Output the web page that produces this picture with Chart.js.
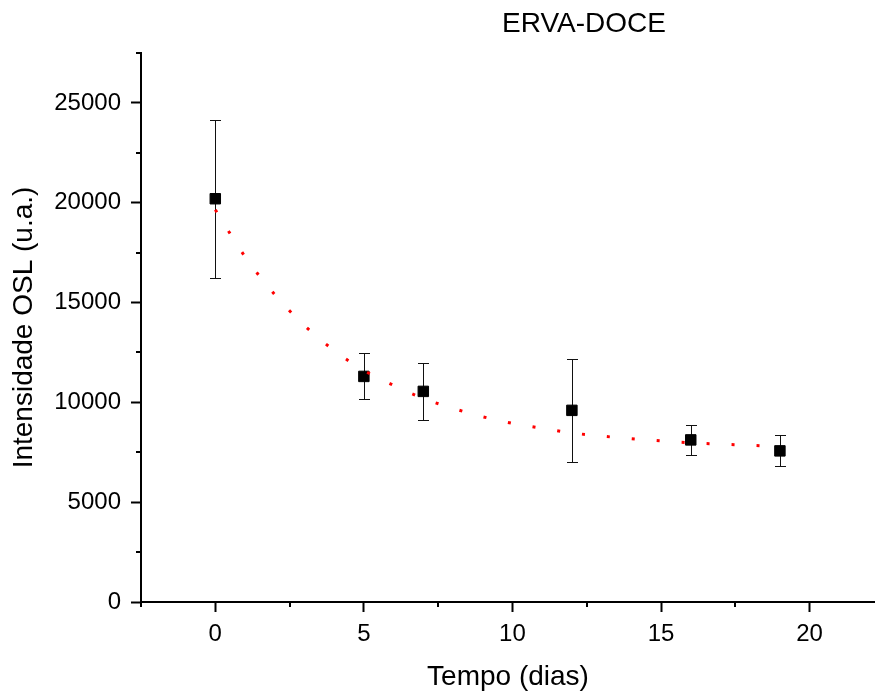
<!DOCTYPE html>
<html>
<head>
<meta charset="utf-8">
<script src="https://cdn.jsdelivr.net/npm/chart.js@4.4.1/dist/chart.umd.min.js"></script>
<style>
  html, body { margin: 0; padding: 0; background: #fff; overflow: hidden; }
  canvas { display: block; }
</style>
</head>
<body>
<canvas id="oslChart" width="875" height="698"></canvas>
<script>
// measured points (days, OSL intensity, error)
const days = [0, 5, 7, 12, 16, 19];
const osl = [20200, 11300, 10550, 9600, 8120, 7570];
const oslErr = [3960, 1150, 1440, 2590, 736, 776];

// fitted decay curve
const fitDays = [0, 1, 2, 3, 4, 5, 6, 7, 8, 9, 10, 11, 12, 13, 14, 15, 16, 17, 18, 19];
const fitOsl = [19650, 17300, 15400, 13850, 12600, 11600, 10850, 10200, 9700, 9280,
                8950, 8700, 8470, 8310, 8180, 8070, 7970, 7910, 7850, 7780];

const xTicks = [-2.5, 0, 2.5, 5, 7.5, 10, 12.5, 15, 17.5, 20];
const yTicks = [0, 2500, 5000, 7500, 10000, 12500, 15000, 17500, 20000, 22500, 25000, 27500];

const FONT = "'Liberation Sans', Arial, sans-serif";
const isMajorX = v => v % 5 === 0;
const isMajorY = v => v % 5000 === 0;

const errorBars = {
    id: 'errorBars',
    beforeDatasetsDraw(chart) {
        const { ctx, scales: { x, y } } = chart;
        ctx.save();
        ctx.strokeStyle = '#111';
        ctx.lineWidth = 1;
        days.forEach((d, i) => {
            const px = Math.round(x.getPixelForValue(d)) + 0.5;
            const top = Math.round(y.getPixelForValue(osl[i] + oslErr[i])) + 0.5;
            const bot = Math.round(y.getPixelForValue(osl[i] - oslErr[i])) + 0.5;
            ctx.beginPath();
            ctx.moveTo(px, top); ctx.lineTo(px, bot);
            ctx.moveTo(px - 5.5, top); ctx.lineTo(px + 5.5, top);
            ctx.moveTo(px - 5.5, bot); ctx.lineTo(px + 5.5, bot);
            ctx.stroke();
        });
        ctx.restore();
    }
};

// short minor ticks + title
const extras = {
    id: 'extras',
    afterDraw(chart) {
        const { ctx, chartArea, scales: { x, y } } = chart;
        ctx.save();
        ctx.strokeStyle = '#000';
        ctx.lineWidth = 2;
        ctx.beginPath();
        xTicks.filter(v => !isMajorX(v)).forEach(v => {
            const px = Math.round(x.getPixelForValue(v));
            ctx.moveTo(px, chartArea.bottom);
            ctx.lineTo(px, chartArea.bottom + 5);
        });
        yTicks.filter(v => !isMajorY(v)).forEach(v => {
            const py = Math.round(y.getPixelForValue(v));
            ctx.moveTo(chartArea.left, py);
            ctx.lineTo(chartArea.left - 5, py);
        });
        ctx.stroke();

        ctx.fillStyle = '#000';
        ctx.font = '28px ' + FONT;
        ctx.textAlign = 'center';
        ctx.textBaseline = 'alphabetic';
        ctx.fillText('ERVA-DOCE', 584, 32);
        ctx.restore();
    }
};

new Chart(document.getElementById('oslChart'), {
    type: 'scatter',
    data: {
        datasets: [{
            label: 'OSL',
            data: days.map((d, i) => ({ x: d, y: osl[i] })),
            pointStyle: 'rect',
            pointRadius: 7.4,
            pointHoverRadius: 7.4,
            backgroundColor: '#000',
            borderColor: '#000',
            borderWidth: 1,
            order: 2
        }, {
            label: 'Ajuste',
            data: fitDays.map((d, i) => ({ x: d, y: fitOsl[i] })),
            showLine: true,
            cubicInterpolationMode: 'monotone',
            borderColor: '#ff0000',
            borderWidth: 3,
            borderDash: [3, 22],
            borderCapStyle: 'butt',
            pointRadius: 0,
            order: 1
        }]
    },
    options: {
        responsive: false,
        devicePixelRatio: 1,
        animation: false,
        layout: { autoPadding: false, padding: { top: 53, left: 0, right: 0, bottom: 0 } },
        plugins: { legend: { display: false }, tooltip: { enabled: false } },
        scales: {
            x: {
                type: 'linear',
                min: -2.5,
                max: 22.2,
                afterBuildTicks: s => { s.ticks = xTicks.map(v => ({ value: v })); },
                afterFit: s => { s.height = 96; s.paddingLeft = 0; s.paddingRight = 0; },
                border: { display: true, color: '#000', width: 2 },
                grid: {
                    drawOnChartArea: false,
                    tickLength: 10,
                    tickWidth: 2,
                    tickColor: c => isMajorX(c.tick.value) ? '#000' : 'rgba(0,0,0,0)'
                },
                ticks: {
                    color: '#000',
                    font: { family: FONT, size: 24 },
                    padding: 8,
                    maxRotation: 0,
                    autoSkip: false,
                    callback: v => isMajorX(v) ? String(v) : ''
                },
                title: {
                    display: true,
                    text: 'Tempo (dias)',
                    color: '#000',
                    font: { family: FONT, size: 28 },
                    padding: { top: 0, bottom: 4 }
                }
            },
            y: {
                type: 'linear',
                min: 0,
                max: 27500,
                afterBuildTicks: s => { s.ticks = yTicks.map(v => ({ value: v })); },
                afterFit: s => { s.width = 141; },
                border: { display: true, color: '#000', width: 2 },
                grid: {
                    drawOnChartArea: false,
                    tickLength: 10,
                    tickWidth: 2,
                    tickColor: c => isMajorY(c.tick.value) ? '#000' : 'rgba(0,0,0,0)'
                },
                ticks: {
                    color: '#000',
                    font: { family: FONT, size: 24 },
                    padding: 10,
                    autoSkip: false,
                    callback: v => isMajorY(v) ? String(v) : ''
                },
                title: {
                    display: true,
                    text: 'Intensidade OSL (u.a.)',
                    color: '#000',
                    font: { family: FONT, size: 28 },
                    padding: { top: 7, bottom: 0 }
                }
            }
        }
    },
    plugins: [errorBars, extras]
});
</script>
</body>
</html>
